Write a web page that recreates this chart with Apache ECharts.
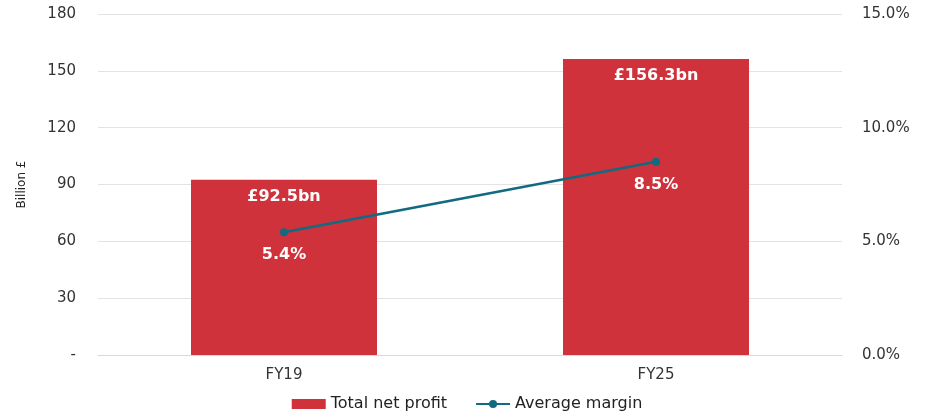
<!DOCTYPE html>
<html>
<head>
<meta charset="utf-8">
<script src="https://cdn.jsdelivr.net/npm/echarts@6/dist/echarts.min.js"></script>
<style>
html, body { margin: 0; padding: 0; background: #fff; }
#chart { width: 934px; height: 417px; }
</style>
</head>
<body>
<div id="chart"></div>
<script>
// data
var years = ['FY19', 'FY25'];
var netProfit = [92.5, 156.3];   // billion £
var avgMargin = [5.4, 8.5];      // percent

var myChart = echarts.init(document.getElementById('chart'));

var option = {
    animation: false,
    textStyle: { fontFamily: 'DejaVu Sans' },
    grid: { left: 98, right: 92, top: 14, bottom: 62 },
    legend: {
        bottom: 0,
        left: 'center',
        itemGap: 28,
        itemWidth: 34,
        itemHeight: 10,
        textStyle: { fontSize: 16, color: '#222', fontFamily: 'DejaVu Sans' },
        data: [
            { name: 'Total net profit', icon: 'rect' },
            { name: 'Average margin' }
        ]
    },
    xAxis: [{
        type: 'category',
        data: years,
        axisTick: { show: false },
        axisLine: { show: true, lineStyle: { color: '#d9d9d9' } },
        axisLabel: { fontSize: 15, color: '#333', margin: 13 }
    }],
    yAxis: [{
        type: 'value',
        name: 'Billion £',
        nameLocation: 'middle',
        nameRotate: 90,
        nameGap: 70,
        nameTextStyle: { fontSize: 12, color: '#222' },
        min: 0,
        max: 180,
        interval: 30,
        splitLine: { lineStyle: { color: '#e3e3e3' } },
        axisLabel: {
            fontSize: 15,
            color: '#333',
            margin: 22,
            formatter: function(v) { return v === 0 ? '-' : v; }
        }
    }, {
        type: 'value',
        min: 0,
        max: 15,
        interval: 5,
        splitLine: { show: false },
        axisLabel: {
            fontSize: 15,
            color: '#333',
            margin: 20,
            formatter: function(v) { return v.toFixed(1) + '%'; }
        }
    }],
    series: [{
        name: 'Total net profit',
        type: 'bar',
        data: netProfit,
        barWidth: '50%',
        itemStyle: { color: '#d0323b' },
        label: {
            show: true,
            position: 'insideTop',
            distance: 9,
            color: '#fff',
            fontSize: 16,
            fontWeight: 'bold',
            formatter: function(p) { return '£' + p.value.toFixed(1) + 'bn'; }
        }
    }, {
        name: 'Average margin',
        type: 'line',
        yAxisIndex: 1,
        data: avgMargin,
        symbol: 'circle',
        symbolSize: 8,
        itemStyle: { color: '#106a80' },
        lineStyle: { color: '#106a80', width: 2.5 },
        label: {
            show: true,
            position: 'bottom',
            distance: 11,
            color: '#fff',
            fontSize: 16,
            fontWeight: 'bold',
            formatter: function(p) { return p.value.toFixed(1) + '%'; }
        }
    }]
};

myChart.setOption(option);
</script>
</body>
</html>
